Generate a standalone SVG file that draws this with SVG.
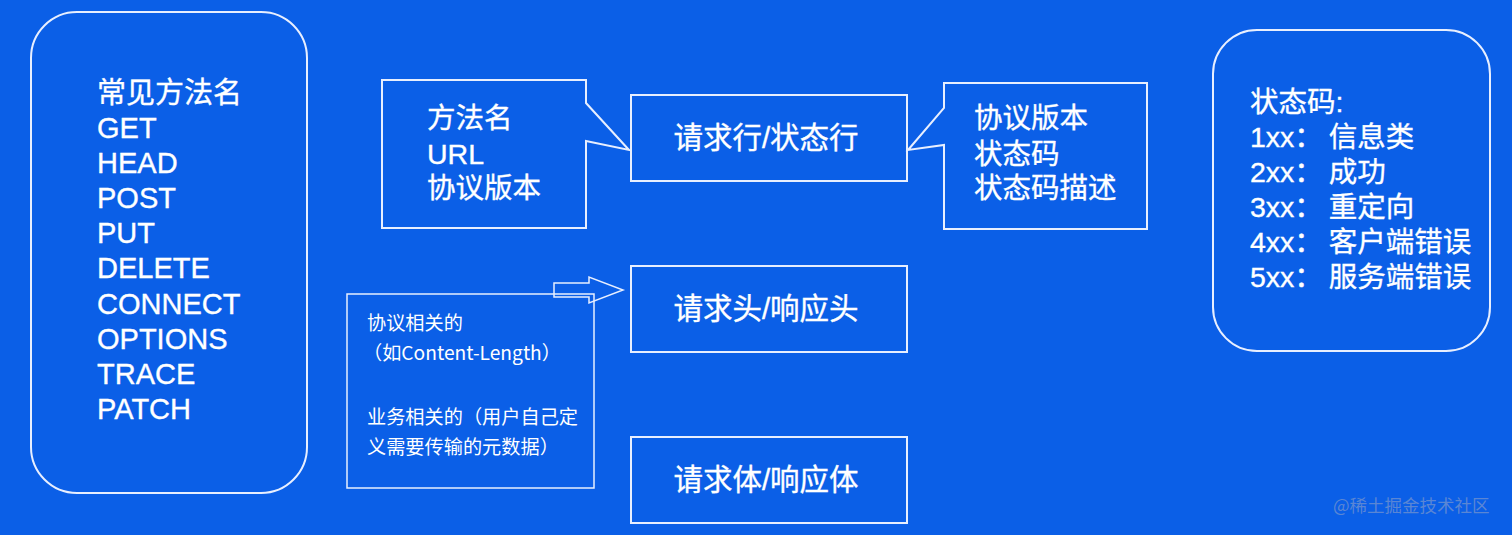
<svg xmlns="http://www.w3.org/2000/svg" width="1512" height="535" viewBox="0 0 1512 535">
<style>
.bg{fill:#0b5fe7}
.box{fill:none;stroke:#e8efff;stroke-width:2}
.thin{fill:none;stroke:#e8efff;stroke-width:1.5}
.t{font-family:"Liberation Sans","Noto Sans CJK SC",sans-serif;fill:#ffffff;stroke:#ffffff;stroke-width:0.35}
.big{font-size:28.5px}
.lg{font-size:29px}
.mid{font-size:29.5px}
.note{font-family:"Noto Sans CJK SC","Noto Sans",sans-serif;fill:#ffffff;font-size:19.2px}
.wm{font-family:"Noto Sans CJK SC",sans-serif;font-size:17.5px;fill:#5a86d4}
</style>
<rect class="bg" x="0" y="0" width="1512" height="535"/>

<g id="methods">
<rect class="box" x="31" y="12" width="276" height="481" rx="46" ry="46"/>
<text class="t lg" x="97" y="103">常见方法名</text>
<text class="t lg" x="97" y="138">GET</text>
<text class="t lg" x="97" y="173">HEAD</text>
<text class="t lg" x="97" y="208">POST</text>
<text class="t lg" x="97" y="243">PUT</text>
<text class="t lg" x="97" y="278">DELETE</text>
<text class="t lg" x="97" y="314">CONNECT</text>
<text class="t lg" x="97" y="349">OPTIONS</text>
<text class="t lg" x="97" y="384">TRACE</text>
<text class="t lg" x="97" y="419">PATCH</text>
</g>

<g id="request-line-callout">
<path class="box" d="M382,80 H586 V103 L629,150 L586,141 V228 H382 Z"/>
<text class="t big" x="427" y="128">方法名</text>
<text class="t big" x="427" y="164">URL</text>
<text class="t big" x="427" y="198">协议版本</text>
</g>

<g id="request-line">
<rect class="box" x="631" y="95" width="276" height="86"/>
<text class="t mid" x="766" y="148" text-anchor="middle">请求行/状态行</text>
</g>

<g id="status-line-callout">
<path class="box" d="M944,83 H1147 V229 H944 V145 L908,150 L944,108 Z"/>
<text class="t big" x="974" y="128">协议版本</text>
<text class="t big" x="974" y="164">状态码</text>
<text class="t big" x="974" y="198">状态码描述</text>
</g>

<g id="status-codes">
<rect class="box" x="1213" y="30" width="277" height="321" rx="44" ry="44"/>
<text class="t big" x="1250" y="112">状态码:</text>
<text class="t big" x="1250" y="147">1xx：<tspan dx="6">信息类</tspan></text>
<text class="t big" x="1250" y="182">2xx：<tspan dx="6">成功</tspan></text>
<text class="t big" x="1250" y="217">3xx：<tspan dx="6">重定向</tspan></text>
<text class="t big" x="1250" y="252">4xx：<tspan dx="6">客户端错误</tspan></text>
<text class="t big" x="1250" y="287">5xx：<tspan dx="6">服务端错误</tspan></text>
</g>

<g id="headers">
<rect class="box" x="631" y="266" width="276" height="86"/>
<text class="t mid" x="766" y="319" text-anchor="middle">请求头/响应头</text>
</g>

<g id="body">
<rect class="box" x="631" y="437" width="276" height="86"/>
<text class="t mid" x="766" y="490" text-anchor="middle">请求体/响应体</text>
</g>

<g id="header-note">
<rect class="thin" x="347" y="294" width="247" height="194"/>
<text class="note" x="367" y="330">协议相关的</text>
<text class="note" x="363" y="360">（如Content-Length）</text>
<text class="note" x="367" y="424">业务相关的（用户自己定</text>
<text class="note" x="367" y="454">义需要传输的元数据）</text>
</g>

<g id="connectors">
<path class="thin" d="M554,283 H589 V277 L623,290 L589,303 V297 H554 Z"/>
</g>

<text class="wm" x="1333" y="512">@稀土掘金技术社区</text>
</svg>
